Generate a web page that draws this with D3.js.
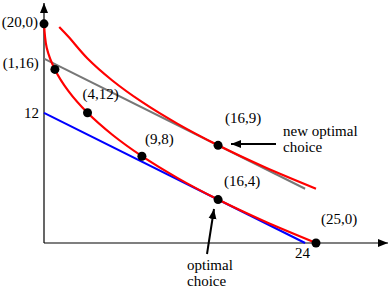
<!DOCTYPE html>
<html><head><meta charset="utf-8">
<script src="https://cdn.jsdelivr.net/npm/d3@7"></script>
<style>body{margin:0;background:#fff}svg{display:block}</style>
</head><body><svg id="c" width="390" height="288"></svg>
<script>
// Original indifference curve
const curve1X = [0, 0.25, 1, 2.25, 4, 6.25, 9, 12.25, 16, 20.25, 25];
const curve1Y = [20.3, 18, 16, 14, 12, 10, 8, 6, 4, 2, 0];
// New (higher) indifference curve
const curve2X = [1.4, 2.25, 4, 6.25, 9, 12.25, 16, 20.25, 25];
const curve2Y = [19.9, 19, 17, 15, 13, 11, 9, 7, 5];
// Budget lines
const blueX = [0, 24], blueY = [12, 0];
const grayX = [0, 24], grayY = [17, 5];
// Labelled points
const ptX = [0, 1, 4, 9, 16, 16, 25];
const ptY = [20.2, 16, 12, 8, 9, 4, 0];
const ptLabels = ["(20,0)", "(1,16)", "(4,12)", "(9,8)", "(16,9)", "(16,4)", "(25,0)"];
const yTicks = [12], xTicks = [24];

const FONT = "'Liberation Serif', 'Times New Roman', serif";
const svg = d3.select("#c");
const x = d3.scaleLinear().domain([0, 25]).range([44, 316]);
const y = d3.scaleLinear().domain([0, 20]).range([243, 26]);

const defs = svg.append("defs");
defs.append("marker").attr("id", "ah").attr("viewBox", "0 0 10 10").attr("refX", 10).attr("refY", 5)
  .attr("markerWidth", 10).attr("markerHeight", 10).attr("markerUnits", "userSpaceOnUse").attr("orient", "auto")
  .append("path").attr("d", "M0,1L10,5L0,9Z").attr("fill", "#000");

// axes lines with arrows
svg.append("line").attr("x1", x(0)).attr("y1", y(0)).attr("x2", x(0)).attr("y2", 3)
  .attr("stroke", "#000").attr("stroke-width", 1.2).attr("marker-end", "url(#ah)");
svg.append("line").attr("x1", x(0)).attr("y1", y(0)).attr("x2", 388).attr("y2", y(0))
  .attr("stroke", "#000").attr("stroke-width", 1.2).attr("marker-end", "url(#ah)");

const ya = svg.append("g").attr("transform", `translate(${x(0)},0)`)
  .call(d3.axisLeft(y).tickValues(yTicks).tickSize(0).tickPadding(5));
ya.select(".domain").remove();
const xa = svg.append("g").attr("transform", `translate(0,${y(0)})`)
  .call(d3.axisBottom(x).tickValues(xTicks).tickSize(0).tickPadding(4));
xa.select(".domain").remove();
svg.selectAll("g").attr("font-family", null).attr("font-size", null);
svg.selectAll(".tick text").attr("fill", "#000");
xa.selectAll(".tick text").attr("dx", -3);

const line = d3.line().x(d => x(d[0])).y(d => y(d[1]));
const zip = (a, b) => a.map((v, i) => [v, b[i]]);

svg.append("path").datum(zip(blueX, blueY)).attr("d", line).attr("fill", "none").attr("stroke", "#0000ff").attr("stroke-width", 2);
svg.append("path").datum(zip(grayX, grayY)).attr("d", line).attr("fill", "none").attr("stroke", "#777").attr("stroke-width", 2);
const sm = d3.line().x(d => x(d[0])).y(d => y(d[1])).curve(d3.curveCatmullRom);
svg.append("path").datum(zip(curve1X, curve1Y)).attr("d", sm).attr("fill", "none").attr("stroke", "#ff0000").attr("stroke-width", 2.2);
svg.append("path").datum(zip(curve2X, curve2Y)).attr("d", sm).attr("fill", "none").attr("stroke", "#ff0000").attr("stroke-width", 2.2);

const pts = zip(ptX, ptY);
svg.selectAll("circle.p").data(pts).join("circle").attr("class", "p")
  .attr("cx", d => x(d[0])).attr("cy", d => y(d[1])).attr("r", 4.5).attr("fill", "#000");

// point labels (dx, dy offsets relative to point, anchor)
const lblOff = [[-6, 0, "end"], [-16, -5, "end"], [-5, -17, "start"], [3, -16, "start"], [7, -26, "start"], [6, -17, "start"], [5, -22, "start"]];
svg.selectAll("text.pl").data(pts).join("text").attr("class", "pl")
  .attr("x", (d, i) => x(d[0]) + lblOff[i][0]).attr("y", (d, i) => y(d[1]) + lblOff[i][1])
  .attr("text-anchor", (d, i) => lblOff[i][2]).attr("dominant-baseline", "middle")
  .text((d, i) => ptLabels[i]);

// annotations
svg.append("line").attr("x1", 276).attr("y1", 144).attr("x2", 231).attr("y2", 144)
  .attr("stroke", "#000").attr("stroke-width", 2).attr("marker-end", "url(#ah)");
svg.append("text").attr("x", 283).attr("y", 136).text("new optimal");
svg.append("text").attr("x", 283).attr("y", 152).text("choice");
svg.append("line").attr("x1", 207).attr("y1", 254).attr("x2", 214).attr("y2", 209)
  .attr("stroke", "#000").attr("stroke-width", 2).attr("marker-end", "url(#ah)");
svg.append("text").attr("x", 187).attr("y", 270).text("optimal");
svg.append("text").attr("x", 187).attr("y", 286).text("choice");

svg.selectAll("text").attr("font-family", FONT).style("font-family", FONT).style("font-size", "15px");
</script></body></html>
